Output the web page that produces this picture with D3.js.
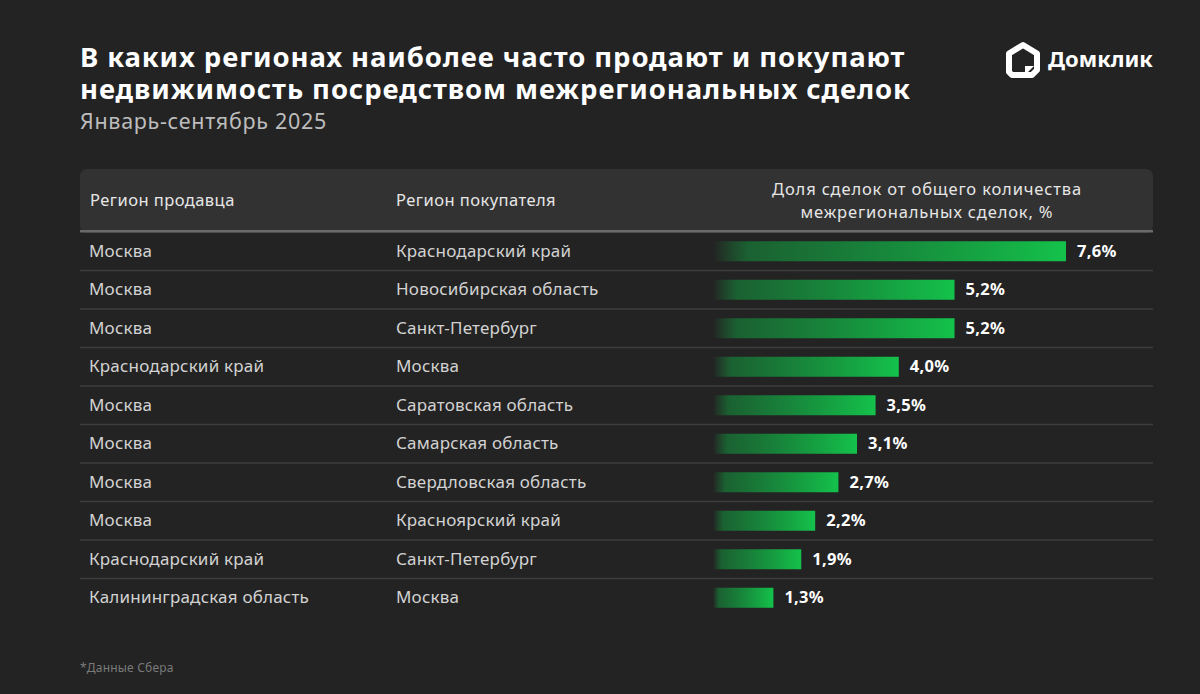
<!DOCTYPE html>
<html>
<head>
<meta charset="utf-8">
<script src="https://cdn.jsdelivr.net/npm/d3@7"></script>
<style>
  html, body { margin: 0; padding: 0; background: #232323; }
  svg { display: block; font-family: "Noto Sans", sans-serif; }
</style>
</head>
<body>
<svg id="chart"></svg>
<script>
const sellers = ["Москва", "Москва", "Москва", "Краснодарский край", "Москва", "Москва",
  "Москва", "Москва", "Краснодарский край", "Калининградская область"]
const buyers = ["Краснодарский край", "Новосибирская область", "Санкт-Петербург", "Москва",
  "Саратовская область", "Самарская область", "Свердловская область", "Красноярский край",
  "Санкт-Петербург", "Москва"]
const shares = [7.6, 5.2, 5.2, 4.0, 3.5, 3.1, 2.7, 2.2, 1.9, 1.3]

const width = 1200, height = 694
const svg = d3.select("#chart").attr("width", width).attr("height", height)

svg.append("rect").attr("width", width).attr("height", height).attr("fill", "#232323")

// title
const title = svg.append("g").attr("fill", "#fff").attr("font-weight", 700)
  .attr("font-size", 27.5).attr("letter-spacing", 0.9)
title.append("text").attr("x", 80).attr("y", 67).text("В каких регионах наиболее часто продают и покупают")
title.append("text").attr("x", 80).attr("y", 99).text("недвижимость посредством межрегиональных сделок")
svg.append("text").attr("x", 80).attr("y", 129).attr("fill", "#bdbdbd").attr("font-size", 21.5)
  .attr("letter-spacing", 0.7).text("Январь-сентябрь 2025")

// logo
const logo = svg.append("g").attr("transform", "translate(1006,42)")
logo.append("path")
  .attr("d", "M17 3 L31 11.5 L31 28 L26 33 L6 33 L3 30 L3 11.5 Z")
  .attr("fill", "none").attr("stroke", "#fff").attr("stroke-width", 6).attr("stroke-linejoin", "round")
logo.append("path").attr("d", "M19 33 L19 24 L28 24 Z").attr("fill", "#fff")
svg.append("text").attr("x", 1048).attr("y", 67).attr("fill", "#fff").attr("font-weight", 700)
  .attr("font-size", 22).text("Домклик")

// header box
svg.append("rect").attr("x", 80).attr("y", 169).attr("width", 1073).attr("height", 64)
  .attr("rx", 7).attr("fill", "#323232")
svg.append("rect").attr("x", 80).attr("y", 230).attr("width", 1073).attr("height", 2.5).attr("fill", "#6a6a6a")

const head = svg.append("g").attr("fill", "#e6e6e6").attr("font-size", 16.5).attr("letter-spacing", 0.45)
head.append("text").attr("x", 90).attr("y", 206).text("Регион продавца")
head.append("text").attr("x", 396).attr("y", 206).text("Регион покупателя")
const head3 = head.append("g").attr("letter-spacing", 0.85)
head3.append("text").attr("x", 927).attr("y", 195).attr("text-anchor", "middle").text("Доля сделок от общего количества")
head3.append("text").attr("x", 927).attr("y", 218).attr("text-anchor", "middle").text("межрегиональных сделок, %")

// scales
const idx = d3.range(shares.length)
const y = d3.scaleBand().domain(idx).range([232, 617])
const x = d3.scaleLinear().domain([0, 7.6]).range([713, 1066])

// row separators
svg.append("g").selectAll("line").data(idx.slice(1)).join("line")
  .attr("x1", 80).attr("x2", 1153)
  .attr("y1", d => y(d)).attr("y2", d => y(d))
  .attr("stroke", "#3e3e3e").attr("stroke-width", 1.5)

const rowText = svg.append("g").attr("fill", "#d2d2d2").attr("font-size", 17).attr("letter-spacing", 0.2)
rowText.selectAll(".s").data(idx).join("text").attr("class", "s")
  .attr("x", 89).attr("y", d => y(d) + y.bandwidth() / 2 + 5.5).text(d => sellers[d])
rowText.selectAll(".b").data(idx).join("text").attr("class", "b")
  .attr("x", 396).attr("y", d => y(d) + y.bandwidth() / 2 + 5.5).text(d => buyers[d])

// bar gradient
const grad = svg.append("defs").append("linearGradient").attr("id", "barGrad")
  .attr("x1", 0).attr("x2", 1).attr("y1", 0).attr("y2", 0)
grad.append("stop").attr("offset", 0).attr("stop-color", "#12b446").attr("stop-opacity", 0)
grad.append("stop").attr("offset", 0.1).attr("stop-color", "#12a040").attr("stop-opacity", 0.5)
grad.append("stop").attr("offset", 1).attr("stop-color", "#14c24b").attr("stop-opacity", 1)

const barH = 20
svg.append("g").selectAll("rect").data(idx).join("rect")
  .attr("x", x(0))
  .attr("y", d => y(d) + (y.bandwidth() - barH) / 2)
  .attr("width", d => x(shares[d]) - x(0))
  .attr("height", barH)
  .attr("fill", "url(#barGrad)")

svg.append("g").attr("fill", "#fff").attr("font-weight", 700).attr("font-size", 16.5)
  .attr("letter-spacing", 0.3)
  .selectAll("text").data(idx).join("text")
  .attr("x", d => x(shares[d]) + 11)
  .attr("y", d => y(d) + y.bandwidth() / 2 + 5.5)
  .text(d => shares[d].toFixed(1).replace(".", ",") + "%")

svg.append("text").attr("x", 80).attr("y", 672).attr("fill", "#7a7a7a").attr("font-size", 12)
  .attr("letter-spacing", 0.2).text("*Данные Сбера")
</script>
</body>
</html>
